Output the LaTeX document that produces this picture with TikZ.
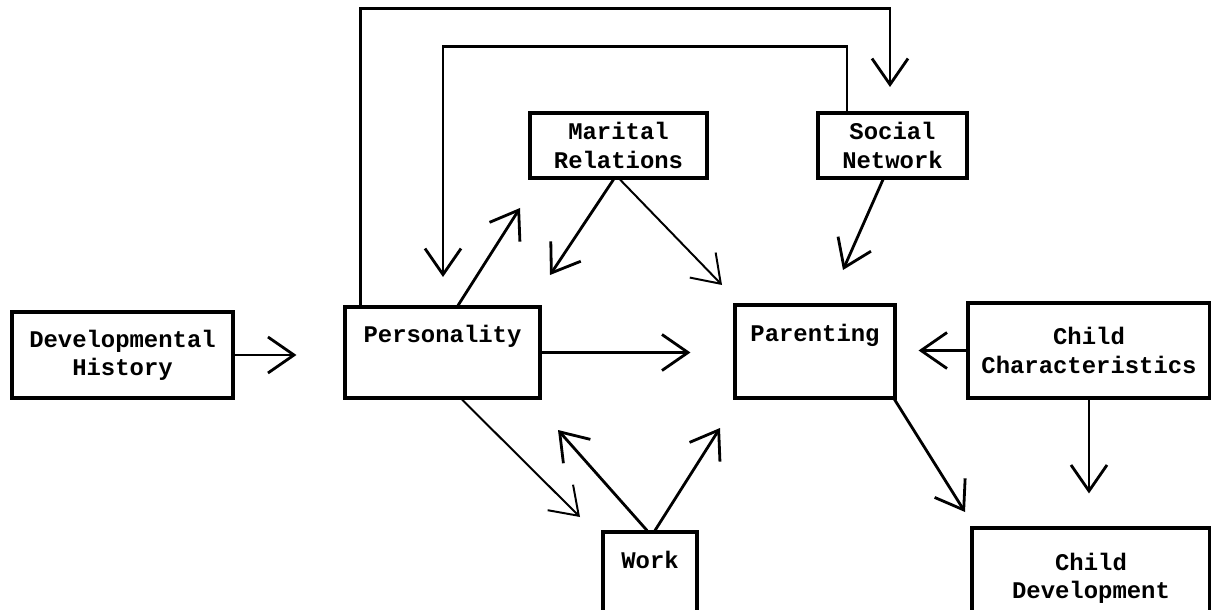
\documentclass[tikz,border=0pt]{standalone}
\usepackage{fontspec}
\newfontfamily\flowfont{Liberation Mono}
\usetikzlibrary{arrows.meta,calc}

\tikzset{
    box/.style 2 args={draw, line width=2.2pt, inner sep=0pt, align=center,
        minimum width=#1*0.025cm, minimum height=#2*0.025cm,
        font=\flowfont\bfseries\fontsize{17}{20}\selectfont},
    link/.style={line width=2pt, -{Straight Barb[length=6.5mm,width=9mm]}},
    thinlink/.style={link, line width=1.4pt},
}

\begin{document}
\begin{tikzpicture}[x=0.025cm, y=-0.025cm]
    \useasboundingbox (0,0) rectangle (1211,610);
    \clip (0,0) rectangle (1211,610);

    \node[box={221}{86}] (dev) at (122.5,355) {Developmental\\History};
    \node[box={195}{91}] (pers) at (442.5,352.5) {Personality\\\strut};
    \node[box={177}{65}] (marital) at (618.5,145.5) {Marital\\Relations};
    \node[box={149}{65}] (social) at (892.5,145.5) {Social\\Network};
    \node[box={160}{93}] (parent) at (815,351.5) {Parenting\\\strut};
    \node[box={242}{95}] (childchar) at (1089,350.5) {Child\\Characteristics};
    \node[box={94}{93}] (work) at (650,578.5) {Work\\\strut};
    \node[box={238}{101}] (childdev) at (1091,578.5) {Child\\Development};

    % where the open arrow heads end
    \coordinate (pm-tip) at (520,208);
    \coordinate (mp-tip) at (550,275);
    \coordinate (mpar-tip) at (722,285);
    \coordinate (spar-tip) at (843,270);
    \coordinate (pcd-tip) at (965,512);
    \coordinate (pw-tip) at (580,517);
    \coordinate (wp-tip) at (558,430);
    \coordinate (wpar-tip) at (720,428);
    \coordinate (ps-tip) at (890,87);
    \coordinate (sp-tip) at (443,277);

    \draw[link, shorten >=1.175cm] (dev.east) -- (dev.east -| pers.west);
    \draw[link, shorten >=1.075cm] (pers.east) -- (pers.east -| parent.west);
    \draw[link, shorten >=0.55cm] (childchar.west) -- (childchar.west -| parent.east);
    \draw[link, shorten >=0.825cm] (childchar.south) -- (childchar.south |- childdev.north);

    \draw[link] ($(pers.north)+(15.5,0)$) -- (pm-tip);
    \draw[link] ($(marital.south)+(-5,0)$) -- (mp-tip);
    \draw[thinlink] ($(marital.south)+(1.5,0)$) -- (mpar-tip);
    \draw[link] ($(social.south)+(-9.5,0)$) -- (spar-tip);
    \draw[link] ($(parent.south east)+(-2,0)$) -- (pcd-tip);
    \draw[thinlink] ($(pers.south)+(19.5,0)$) -- (pw-tip);
    \draw[link] ($(work.north)+(-3,0)$) -- (wp-tip);
    \draw[link] ($(work.north)+(5,0)$) -- (wpar-tip);

    \draw[link] ($(pers.north west)+(17,0)$) -- ++(0,-297) -| (ps-tip);
    \draw[link] ($(social.north)+(-45.5,0)$) -- ++(0,-65) -| (sp-tip);

\end{tikzpicture}
\end{document}
